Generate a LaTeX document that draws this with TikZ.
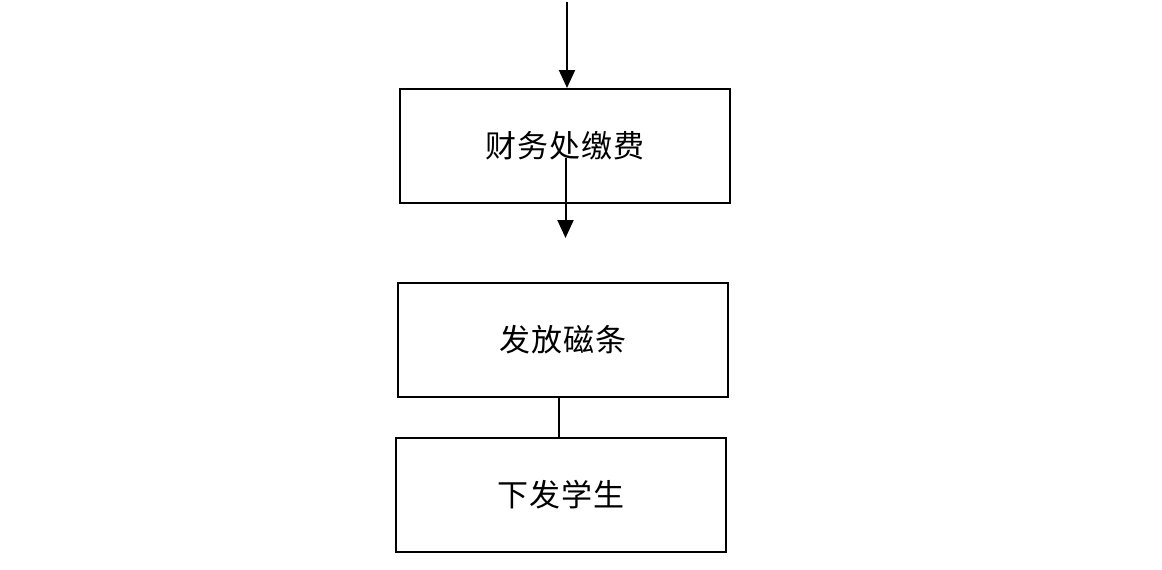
\documentclass[tikz,border=0pt]{standalone}
\usepackage{fontspec}
\newfontfamily\cjk[LetterSpace=4]{Noto Sans CJK SC}
\usetikzlibrary{arrows.meta}
\begin{document}
\begin{tikzpicture}[x=1pt,y=-1pt,
  box/.style={draw,line width=2pt,minimum width=330pt,minimum height=114pt,inner sep=0pt,font=\cjk\fontsize{31}{36}\selectfont},
  conn/.style={line width=2pt},
  arr/.style={conn,-{Triangle[width=16pt,length=18pt]}}]
\useasboundingbox (0,0) rectangle (1162,570);
\node[box] (b1) at (565,146) {财务处缴费};
\node[box] (b2) at (563,339.5) {发放磁条};
\node[box] (b3) at (561,494.5) {下发学生};
\coordinate (top) at (567,2);
\coordinate (s2) at (565.5,158);
\coordinate (e2) at (565.5,238);
\draw[arr] (top) -- (top |- b1.north);
\draw[arr] (s2) -- (e2);
\draw[conn] (559,0 |- b2.south) -- (559,0 |- b3.north);
\end{tikzpicture}
\end{document}
